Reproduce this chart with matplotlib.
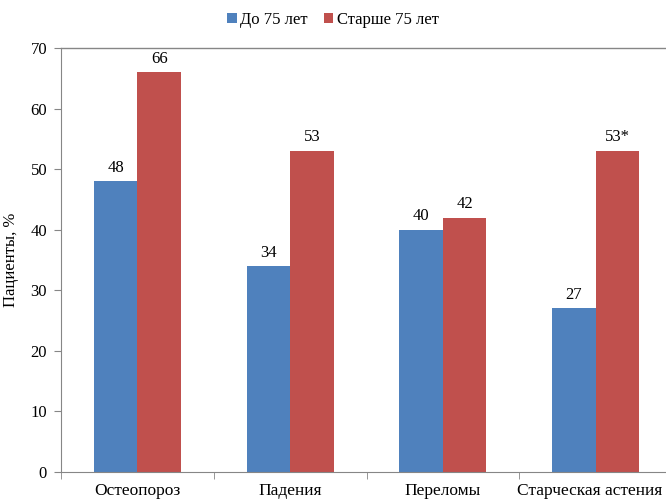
import matplotlib.pyplot as plt
import matplotlib.transforms as mtransforms
import numpy as np

plt.rcParams['font.family'] = ['Liberation Serif', 'DejaVu Serif']

categories = ['Остеопороз', 'Падения', 'Переломы', 'Старческая астения']
under75 = [48, 34, 40, 27]
over75 = [66, 53, 42, 53]
under75_labels = ['48', '34', '40', '27']
over75_labels = ['66', '53', '42', '53*']

blue = '#4F81BD'
red = '#C0504D'
axis_col = '#868686'

fig = plt.figure(figsize=(6.66, 4.99), dpi=100)
ax = fig.add_axes([61 / 666, 1 - 472 / 499, 611 / 666, 424 / 499])

x = np.arange(len(categories))
w = 0.285
b1 = ax.bar(x - w / 2, under75, w, color=blue, label='До 75 лет', zorder=2)
b2 = ax.bar(x + w / 2, over75, w, color=red, label='Старше 75 лет', zorder=2)

for rect, txt in zip(b1, under75_labels):
    ax.annotate(txt, (rect.get_x() + rect.get_width() / 2, rect.get_height()),
                xytext=(0, 4), textcoords='offset points', ha='center', va='bottom', fontsize=12)
for rect, txt in zip(b2, over75_labels):
    ax.annotate(txt, (rect.get_x() + rect.get_width() / 2, rect.get_height()),
                xytext=(0, 4), textcoords='offset points', ha='center', va='bottom', fontsize=12)

ax.set_xlim(-0.5, len(categories) - 0.5)
ax.set_ylim(0, 70)
ax.set_yticks(range(0, 71, 10))
ax.axhline(70, color=axis_col, lw=1, zorder=1, clip_on=False)

ax.set_xticks(x)
ax.set_xticklabels(categories, fontsize=12.5)
ax.tick_params(axis='x', which='major', length=0, pad=8)
ax.set_xticks(np.arange(-0.5, len(categories)), minor=True)
ax.tick_params(axis='x', which='minor', length=5, color=axis_col)
ax.tick_params(axis='y', length=5, color=axis_col, labelsize=12, pad=5)

# last label is shifted left so it stays inside the picture
last = ax.get_xticklabels()[-1]
last.set_transform(last.get_transform() + mtransforms.ScaledTranslation(-6 / 100, 0, fig.dpi_scale_trans))

for s in ['top', 'right']:
    ax.spines[s].set_visible(False)
for s in ['left', 'bottom']:
    ax.spines[s].set_color(axis_col)

ax.set_ylabel('Пациенты, %', fontsize=12, labelpad=8)

fig.legend(handles=[b1, b2], loc='center', bbox_to_anchor=(0.5, 1 - 20 / 499), ncol=2,
           frameon=False, fontsize=12, handlelength=0.55, handleheight=0.55,
           handletextpad=0.2, columnspacing=1.0)

fig.savefig('out.png', dpi=100)
